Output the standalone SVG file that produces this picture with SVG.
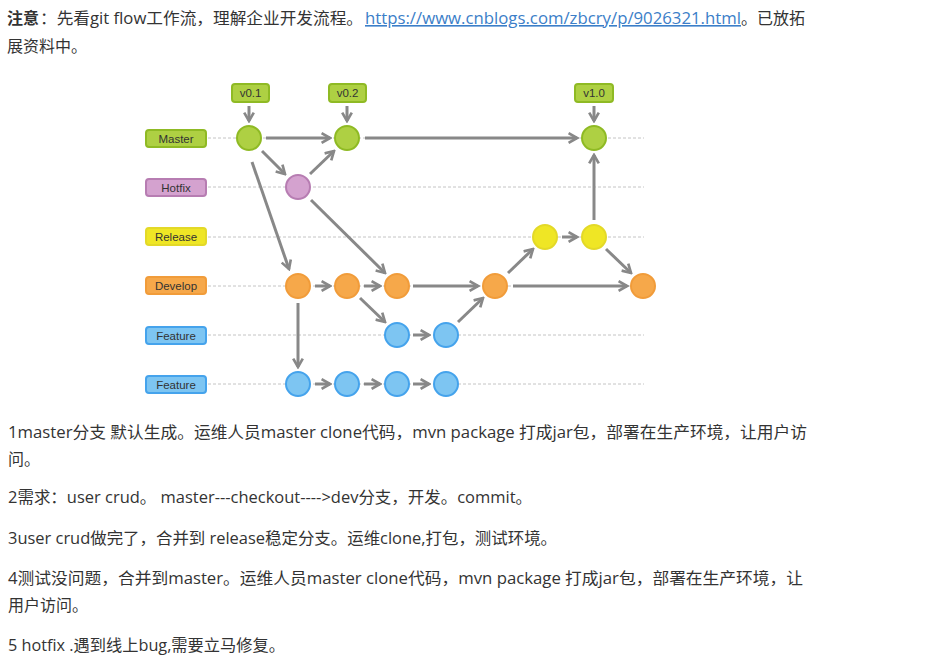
<svg xmlns="http://www.w3.org/2000/svg" width="944" height="669" viewBox="0 0 944 669">
<defs>
<marker id="ah" viewBox="0 0 10 10" refX="8.5" refY="5" markerWidth="12" markerHeight="12" markerUnits="userSpaceOnUse" orient="auto">
<path d="M1.5,1 L8.5,5 L1.5,9" fill="none" stroke="#888" stroke-width="2.2" stroke-linejoin="miter"/>
</marker>
<style>
.t{font-family:"Open Sans","Noto Sans CJK SC",sans-serif;font-size:16px;fill:#333}
.lnk{fill:#3b7ec8;text-decoration:underline}
.lane{stroke:#c4c4c4;stroke-width:1;stroke-dasharray:3 2}
.a{stroke:#888;stroke-width:3;fill:none;marker-end:url(#ah)}
.lbl{font-family:"Liberation Sans",Arial,sans-serif;font-size:11.5px;fill:#333;text-anchor:middle}
.gm{fill:#aed043;stroke:#8fba24;stroke-width:2}
.gh{fill:#d4a2cf;stroke:#b77db2;stroke-width:2}
.gr{fill:#efe625;stroke:#e3d928;stroke-width:2}
.gd{fill:#f6a84a;stroke:#f19c3a;stroke-width:2}
.gf{fill:#7dc5f2;stroke:#45a3ec;stroke-width:2}
</style>
</defs>
<rect width="944" height="669" fill="#fff"/>

<g id="intro">
<text class="t" y="24"><tspan x="7" font-weight="bold">注意</tspan><tspan x="40" textLength="323" lengthAdjust="spacingAndGlyphs">：先看git flow工作流，理解企业开发流程。</tspan><tspan x="365" class="lnk" textLength="376" lengthAdjust="spacingAndGlyphs">https://www.cnblogs.com/zbcry/p/9026321.html</tspan><tspan x="741">。已放拓</tspan></text>
<text class="t" x="7" y="52">展资料中。</text>
</g>

<g id="lanes">
<line class="lane" x1="208" y1="138" x2="644" y2="138"/>
<line class="lane" x1="208" y1="187" x2="644" y2="187"/>
<line class="lane" x1="208" y1="237" x2="644" y2="237"/>
<line class="lane" x1="208" y1="286" x2="630" y2="286"/>
<line class="lane" x1="208" y1="335" x2="644" y2="335"/>
<line class="lane" x1="208" y1="384" x2="644" y2="384"/>
</g>

<g id="label-master"><rect x="146" y="130" width="60" height="17" rx="3" class="gm"/><text class="lbl" x="176" y="142.5">Master</text></g>
<g id="label-hotfix"><rect x="146" y="179" width="60" height="17" rx="3" class="gh"/><text class="lbl" x="176" y="191.5">Hotfix</text></g>
<g id="label-release"><rect x="146" y="228" width="60" height="17" rx="3" class="gr"/><text class="lbl" x="176" y="240.5">Release</text></g>
<g id="label-develop"><rect x="146" y="277" width="60" height="17" rx="3" class="gd"/><text class="lbl" x="176" y="289.5">Develop</text></g>
<g id="label-feature1"><rect x="146" y="327" width="60" height="17" rx="3" class="gf"/><text class="lbl" x="176" y="339.5">Feature</text></g>
<g id="label-feature2"><rect x="146" y="376" width="60" height="17" rx="3" class="gf"/><text class="lbl" x="176" y="388.5">Feature</text></g>

<g id="tag-v01"><rect x="232" y="84" width="37" height="18" rx="3" class="gm"/><text class="lbl" x="250.5" y="97">v0.1</text></g>
<g id="tag-v02"><rect x="329" y="84" width="37" height="18" rx="3" class="gm"/><text class="lbl" x="347.5" y="97">v0.2</text></g>
<g id="tag-v10"><rect x="575" y="84" width="38" height="18" rx="3" class="gm"/><text class="lbl" x="594" y="97">v1.0</text></g>

<g id="connectors">
<line class="a" x1="249" y1="106" x2="249" y2="121"/>
<line class="a" x1="347" y1="106" x2="347" y2="121"/>
<line class="a" x1="594" y1="106" x2="594" y2="121"/>
<line class="a" x1="266" y1="138" x2="330" y2="138"/>
<line class="a" x1="262" y1="151" x2="285" y2="174"/>
<line class="a" x1="310" y1="174" x2="334" y2="151"/>
<line class="a" x1="252" y1="162" x2="289" y2="269"/>
<line class="a" x1="311" y1="200" x2="385" y2="273"/>
<line class="a" x1="365" y1="138" x2="577" y2="138"/>
<line class="a" x1="315" y1="286" x2="330" y2="286"/>
<line class="a" x1="364" y1="286" x2="380" y2="286"/>
<line class="a" x1="360" y1="298" x2="385" y2="322"/>
<line class="a" x1="298" y1="303" x2="298" y2="367"/>
<line class="a" x1="315" y1="384" x2="330" y2="384"/>
<line class="a" x1="364" y1="384" x2="380" y2="384"/>
<line class="a" x1="413" y1="384" x2="429" y2="384"/>
<line class="a" x1="413" y1="335" x2="429" y2="335"/>
<line class="a" x1="413" y1="286" x2="478" y2="286"/>
<line class="a" x1="458" y1="322" x2="483" y2="298"/>
<line class="a" x1="508" y1="273" x2="533" y2="249"/>
<line class="a" x1="562" y1="237" x2="577" y2="237"/>
<line class="a" x1="606" y1="249" x2="631" y2="273"/>
<line class="a" x1="513" y1="286" x2="627" y2="286"/>
<line class="a" x1="594" y1="220" x2="594" y2="155"/>
</g>

<g id="master-1"><circle cx="249" cy="138" r="12" class="gm"/></g>
<g id="master-2"><circle cx="347" cy="138" r="12" class="gm"/></g>
<g id="master-3"><circle cx="594" cy="138" r="12" class="gm"/></g>
<g id="hotfix-1"><circle cx="298" cy="187" r="12" class="gh"/></g>
<g id="release-1"><circle cx="545" cy="237" r="12" class="gr"/></g>
<g id="release-2"><circle cx="594" cy="237" r="12" class="gr"/></g>
<g id="develop-1"><circle cx="298" cy="286" r="12" class="gd"/></g>
<g id="develop-2"><circle cx="347" cy="286" r="12" class="gd"/></g>
<g id="develop-3"><circle cx="397" cy="286" r="12" class="gd"/></g>
<g id="develop-4"><circle cx="495" cy="286" r="12" class="gd"/></g>
<g id="develop-5"><circle cx="643" cy="286" r="12" class="gd"/></g>
<g id="feature1-1"><circle cx="397" cy="335" r="12" class="gf"/></g>
<g id="feature1-2"><circle cx="446" cy="335" r="12" class="gf"/></g>
<g id="feature2-1"><circle cx="298" cy="384" r="12" class="gf"/></g>
<g id="feature2-2"><circle cx="347" cy="384" r="12" class="gf"/></g>
<g id="feature2-3"><circle cx="397" cy="384" r="12" class="gf"/></g>
<g id="feature2-4"><circle cx="446" cy="384" r="12" class="gf"/></g>

<g id="notes">
<text class="t" x="8" y="438" textLength="799" lengthAdjust="spacingAndGlyphs">1master分支 默认生成。运维人员master clone代码，mvn package 打成jar包，部署在生产环境，让用户访</text>
<text class="t" x="8" y="465">问。</text>
<text class="t" x="8" y="503" textLength="524" lengthAdjust="spacingAndGlyphs">2需求：user crud。 master---checkout----&gt;dev分支，开发。commit。</text>
<text class="t" x="8" y="544" textLength="549" lengthAdjust="spacingAndGlyphs">3user crud做完了，合并到 release稳定分支。运维clone,打包，测试环境。</text>
<text class="t" x="8" y="584" textLength="795" lengthAdjust="spacingAndGlyphs">4测试没问题，合并到master。运维人员master clone代码，mvn package 打成jar包，部署在生产环境，让</text>
<text class="t" x="8" y="611">用户访问。</text>
<text class="t" x="8" y="651" textLength="277" lengthAdjust="spacingAndGlyphs">5 hotfix .遇到线上bug,需要立马修复。</text>
</g>
</svg>
